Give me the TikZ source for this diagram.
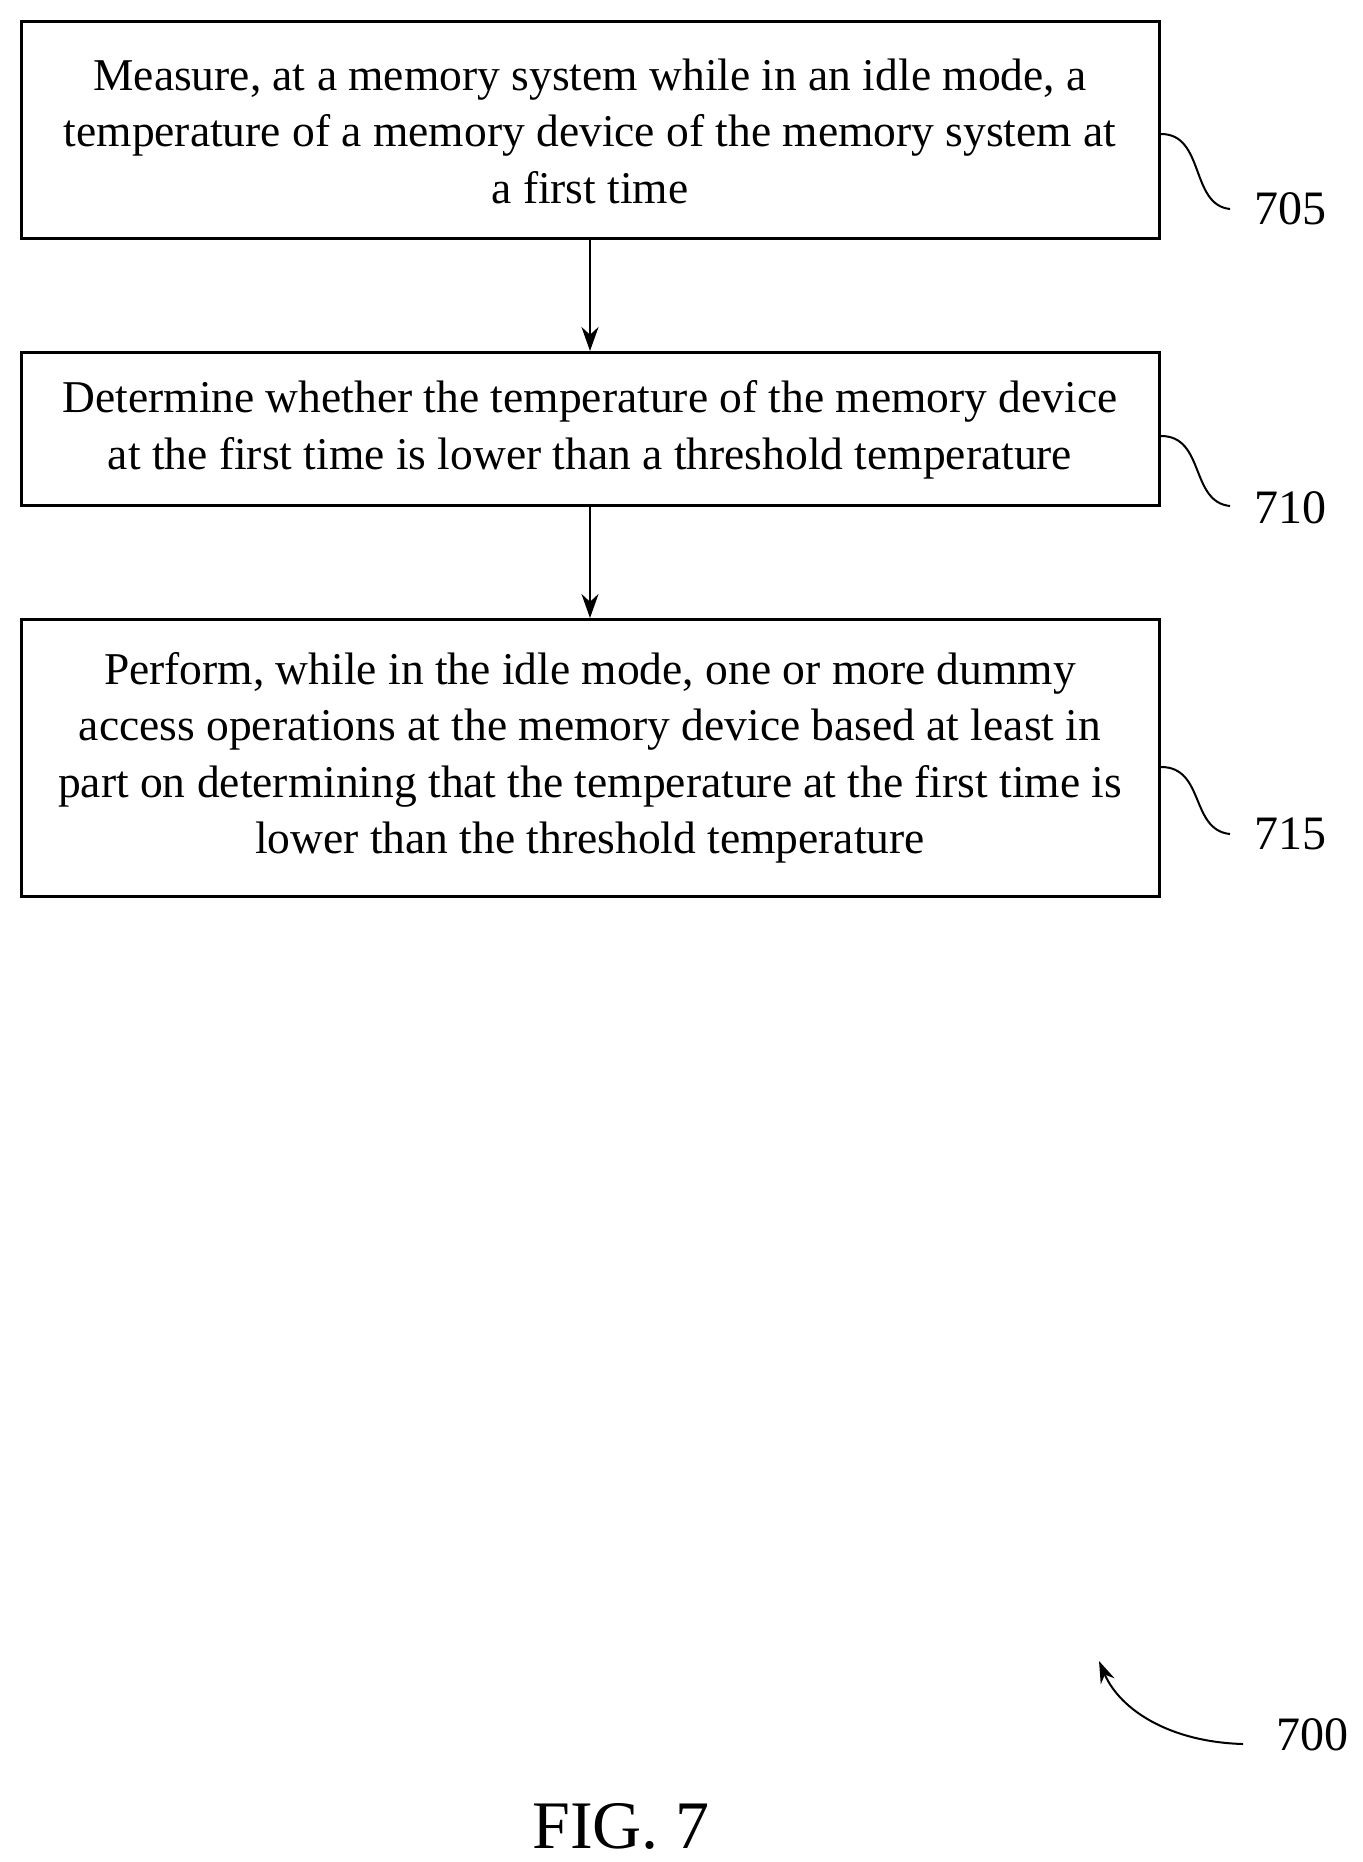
\documentclass[tikz,border=0pt]{standalone}
\usepackage{fontspec}
\setmainfont{Liberation Serif}
\usetikzlibrary{arrows.meta}
\begin{document}
\begin{tikzpicture}[x=1pt,y=-1pt,
  box/.style={draw,line width=3pt,inner sep=0pt},
  txt/.style={align=center,font=\fontsize{45.5}{56.5}\selectfont},
  lab/.style={font=\fontsize{48}{56}\selectfont},
  arr/.style={line width=2.5pt,-{Stealth[length=24pt,width=17pt]}},
  sq/.style={line width=2pt}]
\useasboundingbox (0,0) rectangle (1362,1862);
\draw[box] (21.5,21.5) rectangle (1159,239);
\node[txt] (t1) at (590,131) {Measure, at a memory system while in an idle mode, a\\temperature of a memory device of the memory system at\\a first time};
\draw[box] (21.5,352.5) rectangle (1159,505.5);
\node[txt] (t2) at (590,430) {Determine whether the temperature of the memory device\\at the first time is lower than a threshold temperature};
\draw[box] (21.5,619) rectangle (1159,896);
\node[txt] (t3) at (590,758) {Perform, while in the idle mode, one or more dummy\\access operations at the memory device based at least in\\part on determining that the temperature at the first time is\\lower than the threshold temperature};
\coordinate (a1s) at (590,239); \coordinate (a1e) at (590,351);
\coordinate (a2s) at (590,505.5); \coordinate (a2e) at (590,618);
\draw[arr] (a1s) -- (a1e);
\draw[arr] (a2s) -- (a2e);
\node[lab] (l705) at (1290,209) {705};
\node[lab] (l710) at (1290,508) {710};
\node[lab] (l715) at (1290,834) {715};
\coordinate (s1) at (1161,134); \coordinate (s2) at (1161,436); \coordinate (s3) at (1161,767);
\coordinate (e1) at (1230,209); \coordinate (e2) at (1230,506); \coordinate (e3) at (1230,834);
\draw[sq] (s1) .. controls (1205,134) and (1190,205) .. (e1);
\draw[sq] (s2) .. controls (1205,436) and (1190,502) .. (e2);
\draw[sq] (s3) .. controls (1205,767) and (1190,830) .. (e3);
\node[lab] (l700) at (1312,1735) {700};
\coordinate (c7) at (1243,1744);
\coordinate (a7) at (1099,1661);
\draw[line width=2pt,-{Stealth[length=22pt,width=15pt]}] (c7) .. controls (1170,1742) and (1120,1710) .. (a7);
\node[font=\fontsize{68}{80}\selectfont] (fig) at (621,1826) {FIG. 7};
\end{tikzpicture}
\end{document}
